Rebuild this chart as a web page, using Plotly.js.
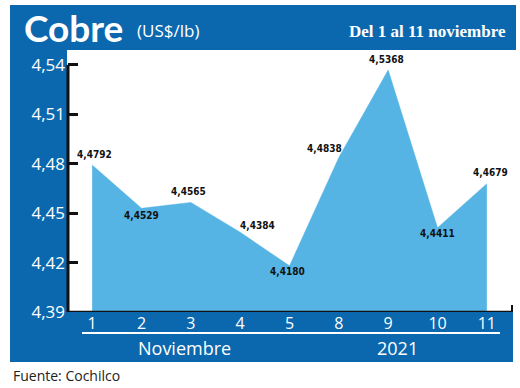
<!DOCTYPE html>
<html>
<head>
<meta charset="utf-8">
<script src="https://cdn.plot.ly/plotly-3.0.1.min.js"></script>
<style>html,body{margin:0;padding:0;background:#fff;}#chart{width:520px;height:388px;}</style>
</head>
<body>
<div id="chart"></div>
<script>
// ---- data ----
const days = ['1', '2', '3', '4', '5', '8', '9', '10', '11'];
const prices = [4.4792, 4.4529, 4.4565, 4.4384, 4.4180, 4.4838, 4.5368, 4.4411, 4.4679];
const priceLabels = ['4,4792', '4,4529', '4,4565', '4,4384', '4,4180', '4,4838', '4,5368', '4,4411', '4,4679'];
const yTicks = [4.39, 4.42, 4.45, 4.48, 4.51, 4.54];
const yTickText = ['4,39', '4,42', '4,45', '4,48', '4,51', '4,54'];

// ---- layout helpers (pixel -> paper) ----
const W = 520, H = 388;
const M = {l: 68, r: 7, t: 50, b: 76};
const PW = W - M.l - M.r, PH = H - M.t - M.b;
const px = x => (x - M.l) / PW;
const py = y => (H - M.b - y) / PH;

const darkBlue = '#0B68AF';
const lightBlue = '#55B4E4';
const labelFont = "'Liberation Sans Narrow', 'DejaVu Sans Condensed', 'Roboto', sans-serif";

// label offsets (dx, dy in px) for readability, per point
const labelShift = [[2, 11], [0, -7], [-2, 11], [17, 7], [-2, -6], [-14, 9], [-2, 11], [0, -6], [4, 11]];

const annotations = prices.map((v, i) => ({
  x: i, y: v, xref: 'x', yref: 'y', text: priceLabels[i], showarrow: false,
  xshift: labelShift[i][0], yshift: labelShift[i][1],
  font: {family: labelFont, size: 10, color: '#111', weight: 'bold'}
}));

annotations.push(
  {xref: 'paper', yref: 'paper', x: px(22), y: py(27), xanchor: 'left', yanchor: 'middle', showarrow: false,
   text: '<b>Cobre</b>', font: {family: 'Lato, sans-serif', size: 37, color: '#fff'}},
  {xref: 'paper', yref: 'paper', x: px(135), y: py(30), xanchor: 'left', yanchor: 'middle', showarrow: false,
   text: '(US$/lb)', font: {family: "'Open Sans', sans-serif", size: 17, color: '#fff'}},
  {xref: 'paper', yref: 'paper', x: px(508), y: py(31), xanchor: 'right', yanchor: 'middle', showarrow: false,
   text: '<b>Del 1 al 11 noviembre</b>', font: {family: "'Liberation Serif', serif", size: 17, color: '#fff'}},
  {xref: 'paper', yref: 'paper', x: px(184), y: py(348), xanchor: 'center', yanchor: 'middle', showarrow: false,
   text: 'Noviembre', font: {family: "'Open Sans', sans-serif", size: 18, color: '#fff'}},
  {xref: 'paper', yref: 'paper', x: px(397), y: py(348), xanchor: 'center', yanchor: 'middle', showarrow: false,
   text: '2021', font: {family: "'Open Sans', sans-serif", size: 18, color: '#fff'}},
  {xref: 'paper', yref: 'paper', x: px(11), y: py(375), xanchor: 'left', yanchor: 'middle', showarrow: false,
   text: 'Fuente: Cochilco', font: {family: "'Open Sans', sans-serif", size: 14, color: '#222'}}
);

const shapes = [
  {type: 'rect', xref: 'paper', yref: 'paper', x0: px(10), x1: px(516), y0: py(5), y1: py(50),
   fillcolor: darkBlue, line: {width: 0}, layer: 'below'},
  {type: 'rect', xref: 'paper', yref: 'paper', x0: px(10), x1: px(67), y0: py(50), y1: py(362),
   fillcolor: darkBlue, line: {width: 0}, layer: 'below'},
  {type: 'rect', xref: 'paper', yref: 'paper', x0: px(10), x1: px(513), y0: py(312), y1: py(362),
   fillcolor: darkBlue, line: {width: 0}, layer: 'below'},
  // white rule under day labels
  {type: 'line', xref: 'paper', yref: 'paper', x0: px(82), x1: px(500), y0: py(333), y1: py(333),
   line: {color: '#fff', width: 2}},
  // y axis line
  {type: 'line', xref: 'paper', yref: 'y', x0: 0, x1: 0, y0: 4.39, y1: 4.54,
   line: {color: '#111', width: 3}},
  // x axis line
  {type: 'line', xref: 'paper', yref: 'y', x0: 0, x1: px(512), y0: 4.39, y1: 4.39,
   line: {color: '#111', width: 2.5}},
  {type: 'line', xref: 'paper', yref: 'paper', x0: px(512), x1: px(512), y0: py(312), y1: py(305),
   line: {color: '#111', width: 2}}
];

const trace = {
  x: days, y: prices, type: 'scatter', mode: 'lines',
  fill: 'tozeroy', fillcolor: lightBlue,
  line: {color: lightBlue, width: 0.5},
  hoverinfo: 'skip'
};

const layout = {
  width: W, height: H,
  margin: M,
  paper_bgcolor: '#fff', plot_bgcolor: 'rgba(0,0,0,0)',
  showlegend: false,
  xaxis: {
    type: 'category', range: [-0.49, 8.53], fixedrange: true,
    showgrid: false, zeroline: false, showline: false, ticks: '',
    tickfont: {family: "'Open Sans', sans-serif", size: 16, color: '#fff'},
    ticklabelstandoff: 0
  },
  yaxis: {
    range: [4.39, 4.549], fixedrange: true,
    tickvals: yTicks, ticktext: yTickText,
    showgrid: false, zeroline: false, showline: false,
    ticks: 'inside', ticklen: 10, tickwidth: 3, tickcolor: '#111',
    tickfont: {family: "'Open Sans', sans-serif", size: 17, color: '#fff'},
    ticklabelstandoff: 2
  },
  shapes: shapes,
  annotations: annotations
};

Plotly.newPlot('chart', [trace], layout, {staticPlot: true, displayModeBar: false});
</script>
</body>
</html>
